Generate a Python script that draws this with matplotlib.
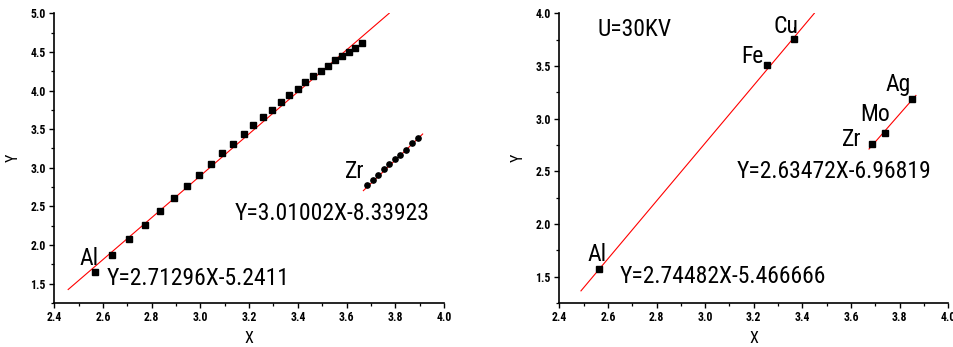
import matplotlib
matplotlib.use('Agg')
import matplotlib.pyplot as plt
import numpy as np
from matplotlib.ticker import MultipleLocator

# left panel: main series and Zr series
x_main = [2.567, 2.638, 2.708, 2.771, 2.834, 2.890, 2.943, 2.995, 3.043, 3.090,
          3.134, 3.177, 3.217, 3.257, 3.294, 3.331, 3.365, 3.401, 3.431, 3.464,
          3.495, 3.524, 3.551, 3.580, 3.609, 3.635, 3.662]
y_main = [1.651, 1.870, 2.073, 2.262, 2.443, 2.607, 2.762, 2.908, 3.054, 3.192,
          3.313, 3.442, 3.554, 3.653, 3.752, 3.846, 3.937, 4.019, 4.105, 4.182,
          4.247, 4.320, 4.389, 4.449, 4.505, 4.557, 4.613]
x_zr = [3.682, 3.707, 3.730, 3.753, 3.775, 3.799, 3.819, 3.843, 3.867, 3.892]
y_zr = [2.773, 2.842, 2.907, 2.981, 3.045, 3.114, 3.166, 3.230, 3.317, 3.382]

# fit lines (slope, intercept, x range)
fit_main = (2.71296, -5.2411, 2.457, 3.775)
fit_zr = (3.01002, -8.33923, 3.669, 3.9125)

# right panel: elements at U=30KV
elements = ['Al', 'Fe', 'Cu', 'Zr', 'Mo', 'Ag']
x_el = [2.563, 3.255, 3.365, 3.687, 3.738, 3.849]
y_el = [1.570, 3.506, 3.756, 2.763, 2.864, 3.184]
fit_light = (2.74482, -5.466666, 2.489, 3.449)
fit_heavy = (2.63472, -6.96819, 3.674, 3.867)

plt.rcParams['font.family'] = ['Roboto Condensed', 'Liberation Sans', 'DejaVu Sans']

fig = plt.figure(figsize=(9.54, 3.47), dpi=100)
ax1 = fig.add_axes([0.0569, 0.1268, 0.4085, 0.8349])
ax2 = fig.add_axes([0.5863, 0.1268, 0.4077, 0.8349])


def style(ax, ylim):
    ax.set_xlim(2.4, 4.0)
    ax.set_ylim(*ylim)
    ax.xaxis.set_major_locator(MultipleLocator(0.2))
    ax.xaxis.set_minor_locator(MultipleLocator(0.1))
    ax.yaxis.set_major_locator(MultipleLocator(0.5))
    ax.yaxis.set_minor_locator(MultipleLocator(0.25))
    ax.spines['top'].set_visible(False)
    ax.spines['right'].set_visible(False)
    for s in ['left', 'bottom']:
        ax.spines[s].set_linewidth(1.2)
    ax.tick_params(which='major', direction='out', length=3.6, width=1.0, pad=2.5)
    ax.tick_params(which='minor', direction='out', length=2.0, width=0.9)
    for lab in ax.get_xticklabels() + ax.get_yticklabels():
        lab.set_fontsize(8.5)
        lab.set_fontweight('bold')
    ax.set_xlabel('X', fontsize=11.5, labelpad=5)
    ax.set_ylabel('Y', fontsize=11.5, labelpad=7)


def fit_line(ax, fit):
    k, b, x0, x1 = fit
    xs = np.array([x0, x1])
    ax.plot(xs, k * xs + b, color='red', lw=0.8, zorder=2)


# left panel
style(ax1, (1.25, 5.0))
ax1.plot(x_main, y_main, 's', color='black', ms=4.5, zorder=3)
ax1.plot(x_zr, y_zr, 'o', color='black', ms=3.8, zorder=3)
fit_line(ax1, fit_main)
fit_line(ax1, fit_zr)
big = dict(fontsize=17, va='baseline', ha='left')
ax1.text(2.505, 1.742, 'Al', **big)
ax1.text(2.616, 1.483, 'Y=2.71296X-5.2411', **big)
ax1.text(3.593, 2.868, 'Zr', **big)
ax1.text(3.142, 2.324, 'Y=3.01002X-8.33923', **big)

# right panel
style(ax2, (1.25, 4.0))
ax2.plot(x_el, y_el, 's', color='black', ms=4.0, zorder=3)
fit_line(ax2, fit_light)
fit_line(ax2, fit_heavy)
label_pos = {'Al': (2.514, 1.648), 'Fe': (3.147, 3.528), 'Cu': (3.279, 3.813),
             'Zr': (3.563, 2.740), 'Mo': (3.637, 2.977), 'Ag': (3.740, 3.262)}
for el in elements:
    ax2.text(*label_pos[el], el, **big)
ax2.text(2.555, 3.784, 'U=30KV', **big)
ax2.text(3.131, 2.436, 'Y=2.63472X-6.96819', **big)
ax2.text(2.650, 1.439, 'Y=2.74482X-5.466666', **big)

fig.savefig('out.png', dpi=100)
